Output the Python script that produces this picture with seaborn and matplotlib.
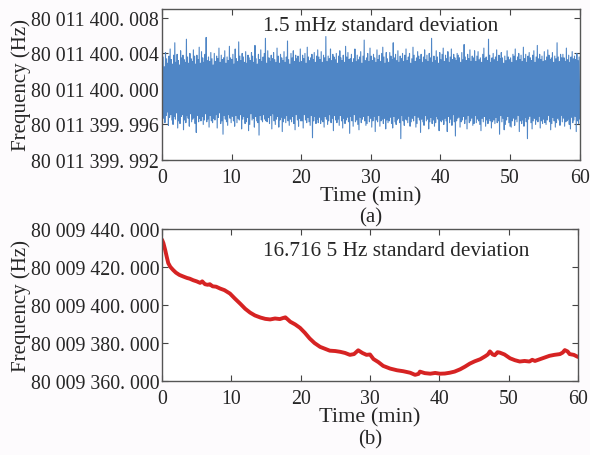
import numpy as np
import pandas as pd
import matplotlib.pyplot as plt
import seaborn as sns

# (a) frequency offset from 80 011 400 Hz, in units of 0.1 mHz
noise_01mhz = [
    31, -28, 36, -33, 25, -38, 41, -30, 34, -26, 29, -41, 37, -32, 45, -29, 33, -35, 28, -40, 38, -31, 52, -34, 30, -27, 39, -44, 32, -36,
    27, -39, 43, -31, 35, -29, 38, -46, 33, -35, 30, -38, 56, -30, 36, -33, 29, -42, 40, -28, 34, -37, 31, -34, 44, -32, 37, -39, 28, -49,
    38, -30, 33, -37, 47, -33, 29, -36, 42, -31, 35, -40, 30, -35, 39, -28, 58, -37, 32, -34, 36, -43, 31, -30, 41, -36, 34, -38, 27, -33,
    40, -35, 31, -29, 37, -44, 34, -32, 46, -27, 30, -39, 38, -36, 33, -51, 35, -30, 43, -34, 29, -37, 36, -41, 32, -29, 48, -33, 35, -38,
    33, -31, 39, -36, 28, -42, 45, -30, 34, -38, 31, -33, 53, -35, 37, -29, 32, -45, 40, -34, 36, -31, 30, -39, 42, -37, 29, -32, 38, -47,
    35, -40, 32, -28, 41, -35, 37, -33, 30, -43, 49, -31, 34, -36, 28, -38, 39, -52, 33, -30, 44, -35, 31, -37, 36, -29, 40, -34, 57, -36,
    29, -37, 43, -32, 35, -39, 31, -30, 38, -45, 34, -28, 41, -36, 33, -40, 30, -34, 46, -31, 37, -43, 29, -35, 39, -32, 35, -48, 32, -37,
    42, -33, 30, -38, 36, -30, 54, -36, 33, -41, 28, -34, 40, -37, 35, -31, 43, -39, 31, -46, 38, -29, 34, -35, 37, -42, 30, -33, 45, -36,
    31, -36, 38, -44, 34, -29, 40, -35, 29, -38, 47, -32, 36, -37, 32, -41, 35, -30, 39, -55, 33, -36, 41, -31, 30, -39, 37, -34, 44, -38,
    36, -32, 33, -39, 42, -35, 30, -37, 38, -43, 35, -31, 59, -34, 31, -40, 37, -36, 34, -29, 45, -38, 32, -33, 39, -47, 36, -30, 33, -35,
    40, -38, 29, -34, 37, -41, 43, -30, 35, -36, 32, -44, 38, -33, 30, -39, 48, -35, 36, -32, 41, -37, 33, -50, 34, -31, 39, -36, 30, -42,
    34, -29, 45, -37, 31, -35, 38, -40, 33, -46, 36, -32, 42, -38, 29, -34, 37, -31, 55, -36, 32, -41, 35, -39, 40, -30, 31, -37, 46, -33,
    37, -43, 32, -36, 39, -31, 35, -48, 30, -35, 44, -37, 33, -30, 38, -42, 31, -36, 40, -34, 47, -39, 36, -33, 29, -45, 41, -35, 34, -38,
    30, -36, 41, -32, 37, -39, 33, -44, 52, -31, 35, -37, 39, -40, 32, -35, 43, -33, 30, -38, 37, -56, 34, -30, 40, -36, 31, -41, 38, -34,
    45, -35, 32, -38, 36, -31, 40, -42, 29, -37, 34, -33, 47, -36, 38, -30, 31, -43, 35, -39, 42, -32, 37, -35, 33, -49, 39, -34, 30, -37,
    36, -41, 44, -30, 33, -36, 38, -34, 31, -45, 40, -37, 35, -32, 57, -39, 30, -35, 37, -42, 32, -38, 43, -31, 36, -34, 29, -47, 41, -36,
    33, -37, 39, -35, 46, -40, 31, -33, 38, -36, 34, -48, 42, -31, 30, -38, 36, -34, 45, -41, 33, -29, 39, -37, 35, -53, 32, -36, 40, -33,
    38, -32, 35, -43, 30, -37, 41, -35, 33, -31, 50, -39, 36, -34, 32, -45, 39, -30, 34, -38, 44, -36, 31, -33, 37, -41, 35, -39, 43, -30,
    31, -38, 37, -34, 42, -36, 33, -40, 35, -47, 30, -33, 39, -37, 46, -31, 34, -42, 36, -35, 32, -39, 56, -33, 38, -36, 30, -44, 35, -37,
    40, -35, 33, -39, 36, -32, 44, -38, 31, -36, 38, -51, 34, -30, 41, -37, 35, -33, 29, -46, 37, -40, 32, -35, 43, -31, 36, -38, 33, -42,
    35, -43, 30, -36, 39, -33, 37, -41, 45, -34, 32, -37, 36, -30, 40, -48, 33, -36, 38, -39, 31, -35, 47, -42, 34, -32, 39, -37, 30, -56,
    37, -34, 41, -31, 35, -38, 32, -45, 38, -36, 43, -33, 30, -40, 36, -35, 49, -37, 34, -31, 39, -44, 33, -36, 37, -39, 31, -34, 42, -38,
    32, -40, 36, -35, 44, -30, 38, -37, 33, -46, 35, -39, 41, -32, 30, -36, 37, -43, 34, -38, 52, -33, 36, -35, 31, -41, 39, -30, 35, -37,
    39, -33, 35, -42, 31, -37, 46, -36, 33, -34, 38, -40, 30, -45, 36, -32, 42, -38, 34, -35, 37, -31, 33, -48, 40, -36, 32, -39, 36, -34,
]

# (b) frequency offset from 80 009 000 Hz, in Hz
drift_t = [0, 0.2, 0.45, 0.7, 0.9, 1.2, 1.6, 2.0, 2.5, 3.1, 3.6, 4.0, 4.5, 5.0, 5.5, 5.8, 6.2, 6.6,
           6.9, 7.3, 7.8, 8.4, 9.0, 9.8, 10.5, 11.3, 12.0, 12.7, 13.4, 14.2, 14.9, 15.6, 16.3,
           17.0, 17.5, 17.8, 18.2, 18.5, 19.2, 19.9, 20.6, 21.3, 22.0, 22.8, 23.5, 24.2, 25.0,
           25.7, 26.4, 27.1, 27.7, 28.3, 28.9, 29.5, 30.0, 30.5, 31.2, 31.9, 32.9, 33.9, 34.8,
           35.8, 36.5, 37.0, 37.2, 37.9, 38.7, 39.4, 40.1, 40.8, 41.5, 42.2, 43.0, 43.7, 44.4,
           45.1, 45.9, 46.6, 47.0, 47.3, 47.7, 48.0, 48.4, 48.7, 49.4, 50.2, 50.9, 51.6, 52.3,
           53.0, 53.4, 53.8, 54.5, 55.2, 55.9, 56.6, 57.4, 57.8, 58.1, 58.5, 58.8, 59.4, 60.0]
drift_hz = [434.3, 432.5, 429.0, 425.0, 422.0, 420.0, 418.4, 417.0, 415.8, 414.9, 414.2, 413.8, 413.0, 412.4,
            411.6, 412.4, 410.9, 410.6, 410.9, 409.8, 409.6, 408.6, 407.8, 406.0, 403.4, 400.6, 398.0,
            396.0, 394.5, 393.4, 392.7, 392.4, 392.9, 392.6, 393.2, 393.5, 392.2, 391.2, 389.8, 388.0,
            385.4, 382.4, 380.0, 378.0, 377.0, 376.0, 375.8, 375.4, 374.8, 373.8, 374.2, 376.2, 374.8,
            373.8, 374.0, 371.6, 370.0, 368.0, 366.6, 365.7, 365.2, 364.4, 363.3, 363.8, 365.0, 364.2,
            363.9, 364.3, 363.9, 364.0, 364.4, 365.0, 366.2, 367.6, 369.2, 370.4, 371.5, 373.0, 374.0,
            375.6, 374.0, 373.6, 375.2, 375.0, 374.0, 372.0, 371.0, 370.3, 370.6, 370.3, 371.2, 370.6,
            371.5, 372.4, 373.3, 373.8, 374.2, 375.0, 376.3, 375.6, 374.2, 373.8, 372.7]

top_ticks = [-8, -4, 0, 4, 8]
top_labels = ["80 011 399. 992", "80 011 399. 996", "80 011 400. 000", "80 011 400. 004", "80 011 400. 008"]
bot_ticks = [360, 380, 400, 420, 440]
bot_labels = ["80 009 360. 000", "80 009 380. 000", "80 009 400. 000", "80 009 420. 000", "80 009 440. 000"]
x_ticks = [0, 10, 20, 30, 40, 50, 60]

noise_mhz = np.array(noise_01mhz) / 10.0
df_a = pd.DataFrame({"t": np.linspace(0, 60, len(noise_mhz)), "f": noise_mhz})
df_b = pd.DataFrame({"t": drift_t, "f": drift_hz})

sns.set_style("ticks")
plt.rcParams["font.family"] = ["Liberation Serif", "DejaVu Serif"]
plt.rcParams["xtick.direction"] = "in"
plt.rcParams["ytick.direction"] = "in"

fig = plt.figure(figsize=(5.9, 4.56), dpi=100)
fig.patch.set_facecolor("#fdfbfd")
ax1 = fig.add_axes([0.2746, 0.647, 0.708, 0.331])
ax2 = fig.add_axes([0.2746, 0.162, 0.705, 0.334])

sns.lineplot(data=df_a, x="t", y="f", ax=ax1, color="#4f86c6", linewidth=0.8)
sns.lineplot(data=df_b, x="t", y="f", ax=ax2, color="#d62323", linewidth=2.8)

for ax, ticks, labels, ylim, txt, ty, tag in [
        (ax1, top_ticks, top_labels, (-8, 9), "1.5 mHz standard deviation", 0.894, "(a)"),
        (ax2, bot_ticks, bot_labels, (360, 440), "16.716 5 Hz standard deviation", 0.855, "(b)")]:
    ax.set_facecolor("white")
    ax.set_xlim(0, 60)
    ax.set_ylim(*ylim)
    ax.set_xticks(x_ticks)
    ax.set_yticks(ticks)
    ax.set_yticklabels(labels)
    ax.tick_params(axis="both", labelsize=14.3, length=4, width=0.8, color="#444444",
                   top=True, right=True)
    ax.tick_params(axis="x", pad=6)
    ax.tick_params(axis="y", pad=2)
    for s in ax.spines.values():
        s.set_color("#555555")
        s.set_linewidth(1.0)
    ax.set_xlabel("Time (min)", fontsize=16, labelpad=-1)
    ax.set_ylabel("Frequency (Hz)", fontsize=15, labelpad=0)
    ax.text(0.242, ty, txt, transform=ax.transAxes, fontsize=15.3, va="center", ha="left")
    ax.text(0.5, -0.38, tag, transform=ax.transAxes, fontsize=15, va="center", ha="center")

fig.savefig("out.png", dpi=100, facecolor=fig.get_facecolor())
